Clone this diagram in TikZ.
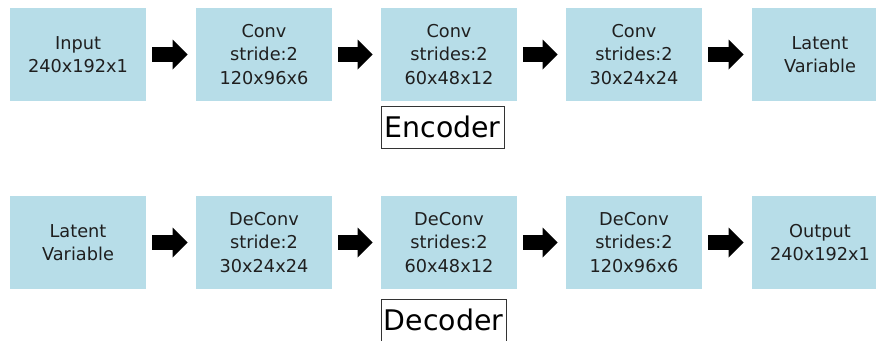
\documentclass[tikz,border=0pt]{standalone}
\usepackage{fontspec}
\setmainfont{DejaVu Sans}
\usetikzlibrary{arrows.meta,positioning}
\definecolor{layerblue}{HTML}{B7DDE8}

\begin{document}
\begin{tikzpicture}[x=0.75pt,y=-0.75pt,
  layer/.style={fill=layerblue,inner sep=0pt,minimum width=102pt,minimum height=69.75pt,align=center,text=black!88,font=\fontsize{13.3}{17.6}\selectfont},
  part/.style={draw=black!80,line width=0.75pt,inner sep=0pt,minimum height=31.5pt,font=\fontsize{21.3}{24}\selectfont},
  flow/.style={line width=11.25pt,-{Triangle[length=11.25pt,width=22.5pt,line width=0pt]}}]
\useasboundingbox (0,0) rectangle (876,340);
\clip (0,0) rectangle (876,340);

% encoder
\node[layer] at (78,54.5) (e1) {Input\\240x192x1};
\node[layer] at (264,54.5) (e2) {Conv\\stride:2\\120x96x6};
\node[layer] at (449,54.5) (e3) {Conv\\strides:2\\60x48x12};
\node[layer] at (634,54.5) (e4) {Conv\\strides:2\\30x24x24};
\node[layer] at (820,54.5) (e5) {Latent\\Variable};
\node[part,minimum width=92.25pt] at (442.5,127) (enc) {Encoder};

% decoder
\node[layer] at (78,242.5) (d1) {Latent\\Variable};
\node[layer] at (264,242.5) (d2) {DeConv\\stride:2\\30x24x24};
\node[layer] at (449,242.5) (d3) {DeConv\\strides:2\\60x48x12};
\node[layer] at (634,242.5) (d4) {DeConv\\strides:2\\120x96x6};
\node[layer] at (820,242.5) (d5) {Output\\240x192x1};
\node[part,minimum width=93.75pt] at (443.5,320) (dec) {Decoder};

\draw[flow] ([xshift=4.5pt]e1.east) -- ([xshift=-6pt]e2.west);
\draw[flow] ([xshift=4.5pt]e2.east) -- ([xshift=-6pt]e3.west);
\draw[flow] ([xshift=4.5pt]e3.east) -- ([xshift=-6pt]e4.west);
\draw[flow] ([xshift=4.5pt]e4.east) -- ([xshift=-6pt]e5.west);
\draw[flow] ([xshift=4.5pt]d1.east) -- ([xshift=-6pt]d2.west);
\draw[flow] ([xshift=4.5pt]d2.east) -- ([xshift=-6pt]d3.west);
\draw[flow] ([xshift=4.5pt]d3.east) -- ([xshift=-6pt]d4.west);
\draw[flow] ([xshift=4.5pt]d4.east) -- ([xshift=-6pt]d5.west);
\end{tikzpicture}
\end{document}
